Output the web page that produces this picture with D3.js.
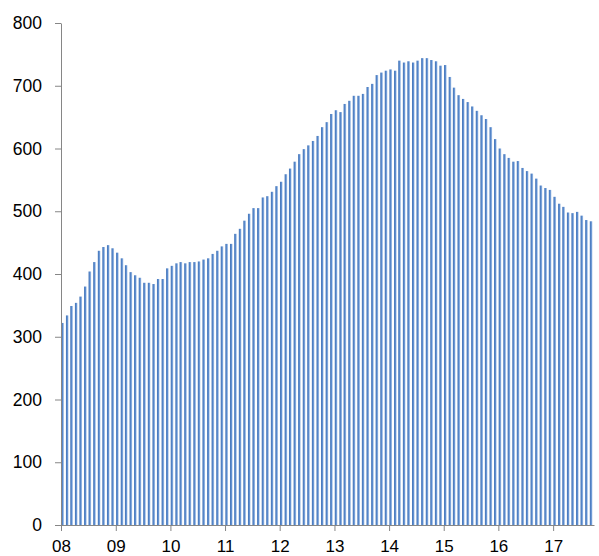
<!DOCTYPE html>
<html>
<head>
<meta charset="utf-8">
<script src="https://cdn.jsdelivr.net/npm/d3@7"></script>
<style>
  body { margin: 0; background: #fff; }
  text { font-family: "Liberation Sans", Arial, sans-serif; }
</style>
</head>
<body>
<svg id="chart" width="599" height="556"></svg>
<script>
  // monthly series, first bar = Jan 2008
  var startYear = 2008;
  var values = [
    322, 334, 349, 354, 364, 380, 404, 419, 437, 443, 446, 441,   // 08
    434, 425, 414, 403, 398, 394, 386, 386, 384, 392, 392, 409,   // 09
    413, 417, 419, 417, 419, 419, 420, 423, 425, 432, 437, 444,   // 10
    448, 448, 464, 472, 485, 496, 505, 505, 522, 524, 531, 540,   // 11
    547, 559, 568, 579, 591, 599, 605, 612, 620, 634, 642, 655,   // 12
    661, 658, 671, 676, 684, 684, 687, 698, 703, 717, 721, 724,   // 13
    726, 724, 740, 737, 739, 737, 740, 744, 744, 741, 739, 732,   // 14
    733, 714, 697, 685, 679, 674, 667, 660, 653, 647, 634, 615,   // 15
    600, 591, 585, 579, 580, 569, 564, 560, 552, 541, 537, 534,   // 16
    523, 512, 507, 498, 497, 499, 493, 486, 484                   // 17
  ];
  var yTicks = [0, 100, 200, 300, 400, 500, 600, 700, 800];
  var xTickYears = [2008, 2009, 2010, 2011, 2012, 2013, 2014, 2015, 2016, 2017];

  (function() {
    var months = values.map(function(v, i) { return new Date(startYear, i, 1); });

    var svg = d3.select('#chart');
    var m = { left: 61, right: 594, top: 23, bottom: 525 };

    var x = d3.scaleTime()
      .domain([new Date(startYear, 0, 1), new Date(startYear, values.length, 1)])
      .range([m.left, m.right]);
    var y = d3.scaleLinear().domain([0, 800]).range([m.bottom, m.top]);

    var grad = svg.append('defs').append('linearGradient').attr('id', 'barGrad')
      .attr('x1', '0%').attr('x2', '100%').attr('y1', '0%').attr('y2', '0%');
    grad.append('stop').attr('offset', '0%').attr('stop-color', '#4474b6');
    grad.append('stop').attr('offset', '55%').attr('stop-color', '#5a8bcf');
    grad.append('stop').attr('offset', '100%').attr('stop-color', '#b9d0ec');

    var barW = 2.6;
    svg.append('g').selectAll('rect')
      .data(values)
      .join('rect')
      .attr('x', function(d, i) { return x(months[i]) + 0.3; })
      .attr('y', function(d) { return y(d); })
      .attr('width', barW)
      .attr('height', function(d) { return y(0) - y(d); })
      .attr('fill', 'url(#barGrad)');

    // y axis
    var yAxis = svg.append('g')
      .attr('transform', 'translate(' + m.left + ',0)')
      .call(d3.axisLeft(y).tickValues(yTicks).tickSizeInner(6).tickSizeOuter(0).tickPadding(13));
    yAxis.select('.domain').attr('stroke', '#868686');
    yAxis.selectAll('.tick line').attr('stroke', '#868686');
    yAxis.selectAll('.tick text').attr('fill', '#000').style('font-size', '17.5px');

    // x axis
    var xAxis = svg.append('g')
      .attr('transform', 'translate(0,' + m.bottom + ')')
      .call(d3.axisBottom(x)
        .tickValues(xTickYears.map(function(yr) { return new Date(yr, 0, 1); }))
        .tickFormat(d3.timeFormat('%y'))
        .tickSizeInner(6).tickSizeOuter(0).tickPadding(9));
    xAxis.select('.domain').attr('stroke', '#868686');
    xAxis.selectAll('.tick line').attr('stroke', '#868686');
    xAxis.selectAll('.tick text').attr('fill', '#000').style('font-size', '17px');
  })();
</script>
</body>
</html>
